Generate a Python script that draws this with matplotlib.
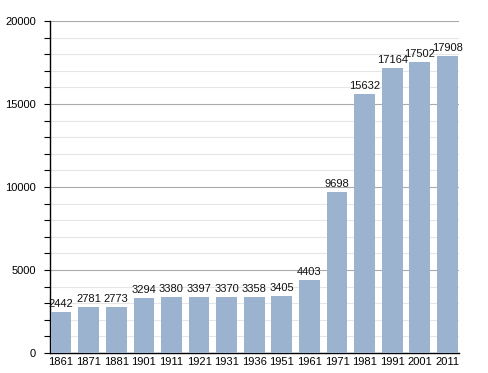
import matplotlib
matplotlib.use("Agg")
import matplotlib.pyplot as plt
from matplotlib.ticker import MultipleLocator

years = ['1861', '1871', '1881', '1901', '1911', '1921', '1931', '1936',
         '1951', '1961', '1971', '1981', '1991', '2001', '2011']
population = [2442, 2781, 2773, 3294, 3380, 3397, 3370, 3358,
              3405, 4403, 9698, 15632, 17164, 17502, 17908]

plt.rcParams['font.family'] = ['Liberation Sans', 'DejaVu Sans']

fig = plt.figure(figsize=(4.88, 3.73), dpi=100)
ax = fig.add_axes([0.1025, 0.0536, 0.8381, 0.8901])

x = list(range(len(years)))
bars = ax.bar(x, population, width=0.75, color='#9bb3cf', zorder=3)

for xi, v in zip(x, population):
    ax.text(xi, v + 180, str(v), ha='center', va='bottom', fontsize=8,
            color='#111111', zorder=4)

ax.set_xlim(-0.4, 14.42)
ax.set_ylim(0, 20000)
ax.set_xticks(x)
ax.set_xticklabels(years, fontsize=8)
ax.yaxis.set_major_locator(MultipleLocator(5000))
ax.yaxis.set_minor_locator(MultipleLocator(1000))
ax.tick_params(axis='y', which='both', length=4, width=0.8, labelsize=8, pad=6)
ax.tick_params(axis='x', length=0, labelsize=8, pad=3)

ax.grid(axis='y', which='major', color='#aaaaaa', linewidth=0.8, zorder=0)
ax.grid(axis='y', which='minor', color='#e6e6e6', linewidth=0.8, zorder=0)
ax.set_axisbelow(True)

for side in ['top', 'right']:
    ax.spines[side].set_visible(False)
ax.spines['left'].set_linewidth(1.0)
ax.spines['bottom'].set_linewidth(1.0)

fig.savefig('out.png', dpi=100)
